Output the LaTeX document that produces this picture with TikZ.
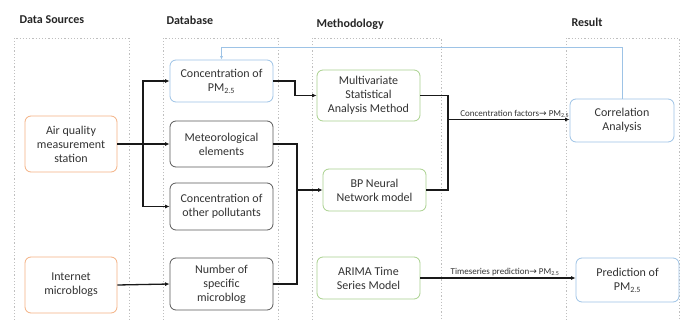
\documentclass[tikz,border=0pt]{standalone}
\usepackage{fontspec}
\setmainfont{Carlito}
\newfontfamily\dvfont{DejaVu Sans}
\usetikzlibrary{arrows.meta}
\definecolor{orangeb}{HTML}{F4B183}
\definecolor{blueb}{HTML}{9DC3E6}
\definecolor{greenb}{HTML}{A9D18E}
\definecolor{grayb}{HTML}{595959}
\definecolor{colb}{HTML}{BFBFBF}
\newcommand{\pmtf}{PM\textsubscript{2.5}}
\newcommand{\rarr}{{\dvfont\char"2192}}
\begin{document}
\begin{tikzpicture}[x=1pt,y=-1pt,
  box/.style={draw, rounded corners=6pt, line width=0.8pt, align=center, inner sep=1pt,
    font=\fontsize{12}{14}\selectfont, text=black!80},
  src/.style={box, draw=orangeb},
  bluebox/.style={box, draw=blueb},
  graybox/.style={box, draw=grayb},
  greenbox/.style={box, draw=greenb},
  colframe/.style={draw=colb, dash pattern=on 1.2pt off 2pt, line width=0.5pt},
  hdr/.style={font=\bfseries\fontsize{12}{14}\selectfont, text=black!85, anchor=west},
  conn/.style={draw=black!90, line width=1.3pt, -{Latex[length=4.5pt,width=4pt]}},
  lbl/.style={font=\fontsize{9}{10}\selectfont, text=black!80, anchor=south, inner sep=1.5pt},
  fb/.style={draw=blueb, line width=0.7pt, -{Latex[length=3.5pt,width=3pt]}}
]
\useasboundingbox (0,0) rectangle (682,320);
\fill[white] (0,0) rectangle (682,320);
% column frames
\draw[colframe] (14,330) -- (14,38) -- (129,38) -- (129,330);
\draw[colframe] (163,330) -- (163,38) -- (278,38) -- (278,330);
\draw[colframe] (312,330) -- (312,38) -- (441,38) -- (441,330);
\draw[colframe] (566,330) -- (566,38) -- (679,38) -- (679,330);
% headers
\node[hdr] (h1) at (16,20) {Data Sources};
\node[hdr] (h2) at (163,20) {Database};
\node[hdr] (h3) at (313,24) {Methodology};
\node[hdr] (h4) at (568,22) {Result};
% nodes
\node[src, minimum width=92pt, minimum height=56pt] (air) at (71,144) {Air quality\\measurement\\station};
\node[src, minimum width=92pt, minimum height=56pt] (inet) at (71,285) {Internet\\microblogs};
\node[bluebox, minimum width=103pt, minimum height=42pt] (pm) at (221.5,81) {Concentration of\\\pmtf};
\node[graybox, minimum width=103pt, minimum height=46pt] (met) at (221.5,144) {Meteorological\\elements};
\node[graybox, minimum width=103pt, minimum height=47pt] (oth) at (221.5,206.5) {Concentration of\\other pollutants};
\node[graybox, minimum width=103pt, minimum height=52pt] (num) at (221.5,284) {Number of\\specific\\microblog};
\node[greenbox, minimum width=103pt, minimum height=51pt] (mv) at (368.5,95.5) {Multivariate\\Statistical\\Analysis Method};
\node[greenbox, minimum width=103pt, minimum height=42pt] (bp) at (374.5,190) {BP Neural\\Network model};
\node[greenbox, minimum width=103pt, minimum height=42pt] (ar) at (368.5,278) {ARIMA Time\\Series Model};
\node[bluebox, minimum width=104pt, minimum height=43pt] (cor) at (622,120.5) {Correlation\\Analysis};
\node[bluebox, minimum width=103pt, minimum height=44pt] (pred) at (627.5,280) {Prediction of\\\pmtf};
% coordinates
\coordinate (j1) at (143,144);
\coordinate (j2) at (295,95);
\coordinate (j3) at (297,190);
\coordinate (j4) at (448,119.5);
\coordinate (fbA) at (622,47);
\coordinate (fbB) at (221.5,47);
% connectors
\draw[conn] (air.east) -- (met.west);
\draw[conn] (j1) |- (pm.west);
\draw[conn] (j1) |- (oth.west);
\draw[conn] (inet.east) -- (num.west);
\draw[conn] (pm.east) -| (j2) |- (mv.west);
\draw[conn, -] (met.east) -| (j3);
\draw[conn] (num.east) -| (j3) |- (bp.west);
\draw[conn, -] (mv.east) -| (j4);
\draw[conn, -] (bp.east) -| (j4);
\draw[conn] (j4) -- (j4 -| cor.west) node[lbl, pos=0.5, xshift=6pt] {Concentration factors\rarr{} \pmtf};
\draw[conn] (ar.east) -- (ar.east -| pred.west) node[lbl, pos=0.5, xshift=7pt] {Timeseries prediction\rarr{} \pmtf};
\draw[fb] (cor.north -| fbA) -- (fbA) -- (fbB) -- (pm.north);
\end{tikzpicture}
\end{document}
